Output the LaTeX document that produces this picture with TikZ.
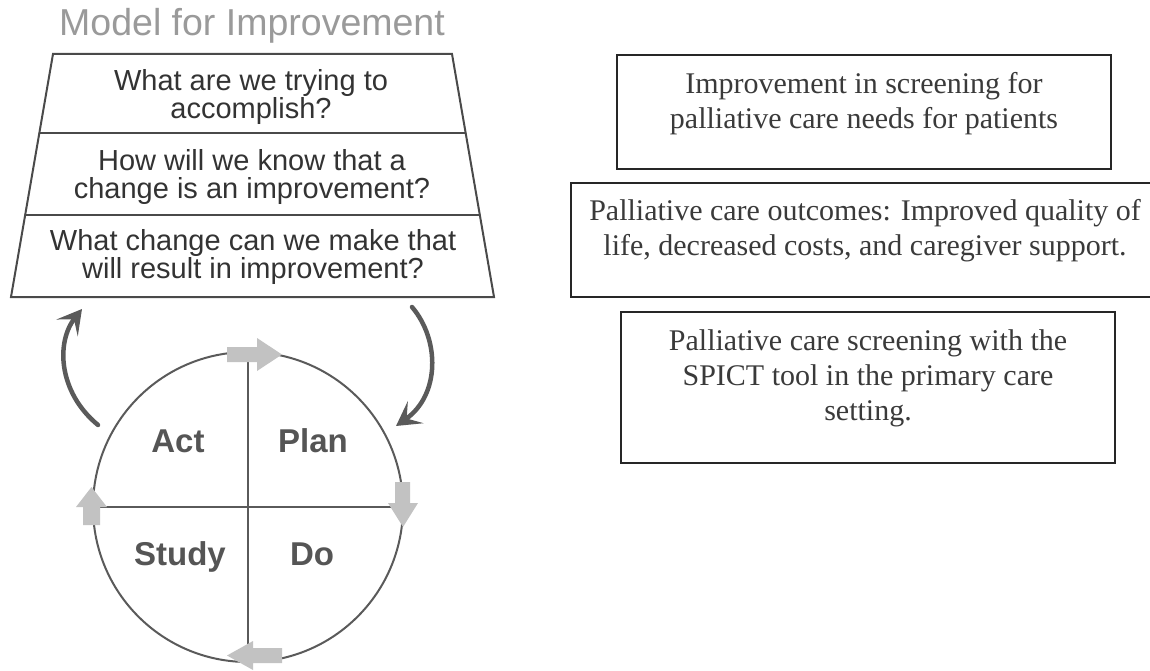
\documentclass[tikz,border=0pt]{standalone}
\usepackage{fontspec}
\setmainfont{Liberation Serif}
\newfontfamily\arialfont{Liberation Sans}
\usetikzlibrary{arrows.meta}
\definecolor{titlegray}{HTML}{9A9A9A}
\definecolor{qgray}{HTML}{333333}
\definecolor{framegray}{HTML}{4A4A4A}
\definecolor{ringgray}{HTML}{5A5A5A}
\definecolor{blockgray}{HTML}{C2C2C2}
\definecolor{phasegray}{HTML}{555555}
\definecolor{boxline}{HTML}{262626}
\definecolor{boxtxt}{HTML}{3A3A3A}
\begin{document}
\begin{tikzpicture}[x=1pt,y=-1pt,
  title/.style={font=\arialfont\fontsize{37.5}{40}\selectfont, text=titlegray, inner sep=0, anchor=base},
  question/.style={font=\arialfont\fontsize{29}{28}\selectfont, text=qgray, align=center, inner sep=0, anchor=north},
  frame/.style={draw=framegray, line width=2pt, line join=miter},
  ring/.style={draw=ringgray, line width=2pt},
  phase/.style={font=\arialfont\bfseries\fontsize{33}{33}\selectfont, text=phasegray, inner sep=0, anchor=base},
  blockarrow/.style={fill=blockgray, draw=none},
  cyclearrow/.style={draw=ringgray, line width=4.5pt, line cap=round,
    -{Stealth[length=24pt, width=27pt, inset=11pt]}},
  infobox/.style={draw=boxline, line width=2pt, rectangle, inner sep=0},
  infotext/.style={font=\fontsize{30}{35}\selectfont, text=boxtxt, align=center, inner sep=0, anchor=north}
]
\useasboundingbox (0,0) rectangle (1150,671);

% ---- Model for Improvement: heading and the three questions ----
\node[title] (heading) at (252,36) {Model for Improvement};

\draw[frame] (53,54) -- (452,54) -- (494,297) -- (11,297) -- cycle;
\draw[frame] (39.5,133) -- (465.5,133);
\draw[frame] (25.3,215) -- (479.7,215);

\node[question] (q1) at (251,69.2) {What are we trying to\\accomplish?};
\node[question] (q2) at (252,149.2) {How will we know that a\\change is an improvement?};
\node[question] (q3) at (253,229.2) {What change can we make that\\will result in improvement?};

% ---- PDSA cycle ----
\coordinate (c) at (248,507);
\draw[ring] (c) circle[radius=155];
\draw[ring] (248,352) -- (248,662);
\draw[ring] (93,507) -- (403,507);

\node[phase] (act)   at (178,452) {Act};
\node[phase] (plan)  at (313,452) {Plan};
\node[phase] (study) at (180,565) {Study};
\node[phase] (do)    at (312,565) {Do};

% block arrows on the ring: clockwise direction
\fill[blockarrow] (227,347) -- (257,347) -- (257,338) -- (282,354.5) -- (257,371) -- (257,362) -- (227,362) -- cycle;
\fill[blockarrow] (395,482) -- (410,482) -- (410,503) -- (418,503) -- (403,527) -- (388,503) -- (395,503) -- cycle;
\fill[blockarrow] (282,648) -- (253,648) -- (253,641) -- (227,655.5) -- (253,670) -- (253,663) -- (282,663) -- cycle;
\fill[blockarrow] (83,525) -- (100,525) -- (100,507) -- (107,507) -- (91.5,487) -- (76,507) -- (83,507) -- cycle;

% arrows linking the questions and the cycle
\coordinate (actout) at (98,425);
\coordinate (qin) at (82,309);
\coordinate (qout) at (412,307);
\coordinate (planin) at (396,426);
\draw[cyclearrow] (actout) .. controls (58,392) and (56,342) .. (qin);
\draw[cyclearrow] (qout) .. controls (440,340) and (440,395) .. (planin);

% ---- project boxes ----
\node[infobox, minimum width=494, minimum height=114] (aimbox) at (864,112) {};
\node[infotext] (aim) at (864,72.5) {Improvement in screening for\\palliative care needs for patients};

\node[infobox, minimum width=584, minimum height=114] (measbox) at (863,240) {};
\node[infotext] (meas) at (865,199.5) {Palliative care outcomes: Improved quality of\\life, decreased costs, and caregiver support.};

\node[infobox, minimum width=494, minimum height=151] (chgbox) at (868,387.5) {};
\node[infotext] (chg) at (868,329.5) {Palliative care screening with the\\SPICT tool in the primary care\\setting.};
\end{tikzpicture}
\end{document}
